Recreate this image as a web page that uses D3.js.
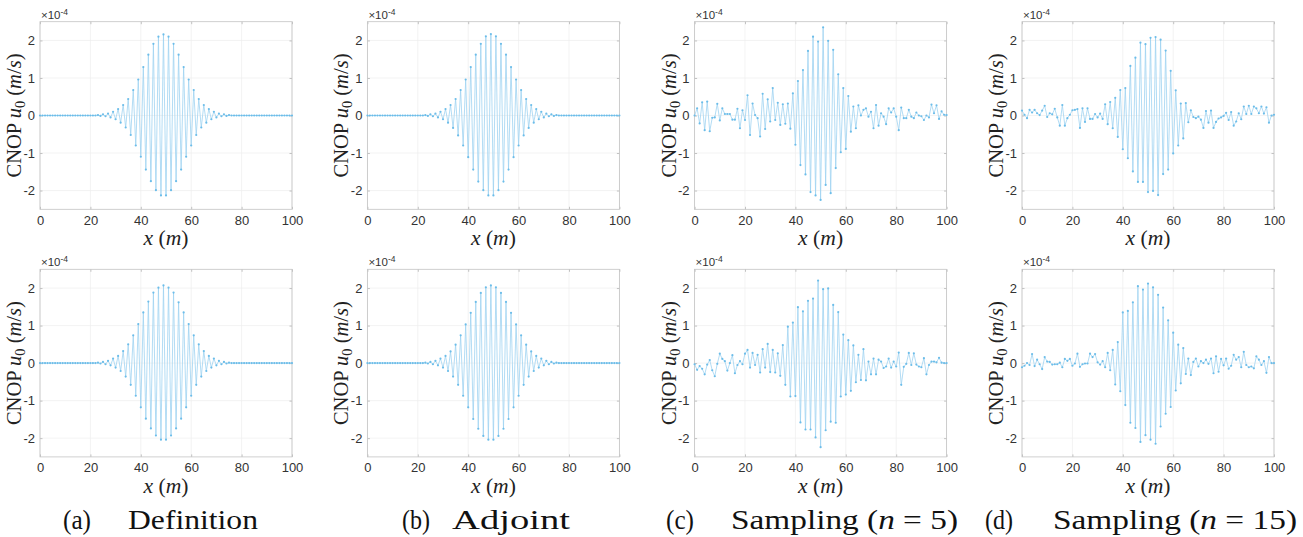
<!DOCTYPE html>
<html>
<head>
<meta charset="utf-8">
<script src="https://cdn.jsdelivr.net/npm/d3@7"></script>
<style>
body{margin:0;background:#fff;}
text{font-family:"Liberation Sans",Arial,sans-serif;}
.serif{font-family:"Liberation Serif","Times New Roman",serif;}
</style>
</head>
<body>
<div id="fig"></div>
<script>
var width = 1303,
height = 537;

// tick labels
var xTicks = [0,20,40,60,80,100];
var yTicks = [-2,-1,0,1,2];
var captionTags = ["(a)","(b)","(c)","(d)"];
var captionNames = ["Definition","Adjoint","Sampling","Sampling"];
var captionN = [null,null,"5","15"];

// CNOP u0 values (x 1e-4 m/s), one per metre, x = 0..100
var defTop = [0,0,0,0,0,0,0,0,0,0, 0,0,0,0,0,0,0,0,0,0,
  0,0,0,0.01,-0.01,0.03,-0.02,0.05,-0.05,0.10,
  -0.10,0.17,-0.19,0.28,-0.32,0.44,-0.52,0.68,-0.80,0.96,
  -1.10,1.29,-1.44,1.62,-1.75,1.91,-1.99,2.10,-2.13,2.16,
  -2.13,2.10,-1.99,1.91,-1.75,1.62,-1.44,1.29,-1.10,0.96,
  -0.80,0.68,-0.52,0.44,-0.32,0.28,-0.19,0.17,-0.10,0.10,
  -0.05,0.05,-0.02,0.03,-0.01,0.01,0,0,0,0,
  0,0,0,0,0,0,0,0,0,0, 0,0,0,0,0,0,0,0,0,0, 0];
var adjTop = [0,0,0,0,0,0,0,0,0,0, 0,0,0,0,0,0,0,0,0,0,
  0,0,0,0.01,-0.01,0.03,-0.02,0.05,-0.05,0.10,
  -0.10,0.17,-0.19,0.28,-0.33,0.44,-0.53,0.68,-0.80,0.96,
  -1.11,1.29,-1.44,1.62,-1.76,1.91,-1.99,2.11,-2.13,2.17,
  -2.13,2.11,-1.99,1.91,-1.76,1.62,-1.44,1.29,-1.11,0.96,
  -0.80,0.68,-0.53,0.44,-0.33,0.28,-0.19,0.17,-0.10,0.10,
  -0.05,0.05,-0.02,0.03,-0.01,0.01,0,0,0,0,
  0,0,0,0,0,0,0,0,0,0, 0,0,0,0,0,0,0,0,0,0, 0];
var samp5Top = [0,0.19,-0.21,0.35,-0.39,0.37,-0.42,-0.06,-0.05,0.31,
  -0.13,0.19,0.04,0.04,0.04,-0.11,-0.11,0.18,-0.34,0.14,
  -0.12,0.54,-0.52,0.32,0.01,-0.07,-0.56,0.58,-0.36,0.43,
  -0.16,0.73,-0.12,0.34,-0.25,0.30,-0.22,0.32,-0.35,0.59,
  -0.78,0.92,-1.32,1.21,-1.57,1.72,-2.04,2.10,-2.13,1.97,
  -2.25,2.35,-1.85,1.99,-2.07,1.75,-1.40,1.10,-0.98,0.73,
  -0.89,0.52,-0.43,0.24,-0.34,0.27,0.00,0.15,0.19,-0.03,
  0.10,-0.34,0.28,-0.27,0.06,-0.03,-0.23,0.19,0.08,0.19,
  -0.03,-0.39,0.21,-0.07,-0.07,0.15,-0.03,-0.07,0.08,0.00,
  -0.02,-0.12,0.00,-0.05,0.29,0.06,0.27,-0.09,0.11,0.02, 0.01];
var samp15Top = [0.13,0.02,-0.07,0.15,0.08,0.15,0.06,0.01,0.13,0.26,
  -0.04,0.06,0.03,0.18,-0.05,-0.27,0.28,-0.27,-0.07,0.02,
  0.14,0.15,0.17,-0.33,0.19,-0.17,0.19,-0.09,-0.09,0.04,
  -0.05,0.05,-0.09,0.30,-0.23,0.36,-0.34,0.47,-0.57,0.68,
  -0.90,0.73,-1.14,1.32,-1.49,1.54,-1.77,1.94,-1.77,1.90,
  -2.04,2.07,-2.01,2.09,-2.12,2.02,-1.56,1.73,-1.44,1.19,
  -1.01,0.67,-0.80,0.32,-0.61,0.33,-0.18,0.14,-0.04,-0.07,
  -0.03,-0.11,-0.33,0.12,-0.19,0.13,-0.33,-0.17,-0.08,-0.05,
  -0.01,0.07,-0.12,0.09,-0.27,-0.16,0.06,-0.10,0.24,0.04,
  0.26,0.04,0.24,0.19,0.06,0.24,0.05,0.22,-0.19,0.00, 0.02];
var defBot = [0,0,0,0,0,0,0,0,0,0, 0,0,0,0,0,0,0,0,0,0,
  0,0,0,0.01,-0.01,0.03,-0.03,0.06,-0.06,0.12,
  -0.12,0.19,-0.21,0.32,-0.36,0.50,-0.58,0.74,-0.87,1.04,
  -1.18,1.35,-1.48,1.64,-1.74,1.88,-1.93,2.01,-2.04,2.07,
  -2.04,2.01,-1.93,1.88,-1.74,1.62,-1.48,1.35,-1.18,1.04,
  -0.87,0.74,-0.58,0.50,-0.36,0.32,-0.21,0.19,-0.12,0.12,
  -0.06,0.06,-0.03,0.03,-0.01,0.01,0,0,0,0,
  0,0,0,0,0,0,0,0,0,0, 0,0,0,0,0,0,0,0,0,0, 0];
var adjBot = [0,0,0,0,0,0,0,0,0,0, 0,0,0,0,0,0,0,0,0,0,
  0,0,0,0.01,-0.01,0.03,-0.03,0.06,-0.06,0.12,
  -0.12,0.19,-0.21,0.31,-0.36,0.49,-0.58,0.74,-0.87,1.03,
  -1.18,1.34,-1.49,1.63,-1.75,1.87,-1.94,2.02,-2.04,2.07,
  -2.04,2.02,-1.94,1.87,-1.75,1.63,-1.49,1.34,-1.18,1.03,
  -0.87,0.74,-0.58,0.49,-0.36,0.31,-0.21,0.19,-0.12,0.12,
  -0.06,0.06,-0.03,0.03,-0.01,0.01,0,0,0,0,
  0,0,0,0,0,0,0,0,0,0, 0,0,0,0,0,0,0,0,0,0, 0];
var samp5Bot = [-0.03,-0.18,-0.08,-0.15,-0.30,-0.04,0.08,-0.19,-0.35,-0.02,
  0.25,0.11,0.05,-0.20,0.00,0.21,-0.27,-0.05,0.05,-0.03,
  0.25,0.35,-0.12,0.27,-0.05,0.22,-0.25,0.37,-0.12,0.51,
  -0.24,0.35,-0.25,0.26,-0.34,0.48,-0.58,0.97,-0.89,1.08,
  -0.88,1.49,-1.58,1.38,-1.77,1.66,-1.77,1.72,-1.98,2.20,
  -2.24,1.97,-1.79,1.99,-1.56,1.55,-1.59,1.36,-0.89,0.76,
  -0.84,0.61,-0.74,0.47,-0.51,0.22,-0.45,0.37,-0.46,0.04,
  -0.30,0.12,-0.30,0.09,0.04,-0.13,-0.09,0.12,-0.12,0.04,
  -0.09,0.28,-0.58,-0.10,-0.02,0.27,-0.05,0.26,-0.04,-0.09,
  -0.11,0.13,-0.30,-0.05,0.04,0.04,0.02,0.14,0.01,0.00, 0.00];
var samp15Bot = [-0.11,-0.07,0.00,-0.05,0.24,-0.08,0.09,-0.03,-0.16,0.16,
  0.04,0.03,-0.04,-0.03,-0.03,0.01,-0.11,0.11,0.06,0.11,
  -0.07,-0.01,0.25,-0.10,-0.03,-0.01,-0.01,0.25,0.16,0.24,
  0.02,-0.04,0.05,-0.11,0.27,-0.19,0.35,-0.57,0.56,-0.75,
  1.35,-1.12,1.39,-1.59,1.62,-1.73,2.05,-2.10,1.96,-1.92,
  2.12,-2.04,2.02,-2.15,1.82,-1.69,1.48,-1.35,1.14,-1.17,
  0.81,-0.73,0.49,-0.54,0.40,-0.29,0.12,-0.32,0.03,0.12,
  -0.09,0.05,0.00,0.09,-0.02,0.12,-0.27,0.18,-0.23,0.11,
  -0.06,0.12,-0.15,-0.07,0.22,0.09,0.16,-0.11,0.30,-0.05,
  -0.11,-0.09,-0.14,0.18,0.09,-0.05,0.05,-0.26,0.16,0.00, 0.00];

var series = [[defTop,adjTop,samp5Top,samp15Top],[defBot,adjBot,samp5Bot,samp15Bot]];

var pw = 252, ph = 187.6,
lefts = [40,367.4,694.6,1022],
tops = [21.7,269.3],
lineColor = "#9fd3f1",
dotColor = "#6cbde9";

var svg = d3.select("#fig").append("svg")
	.attr("width",width)
	.attr("height",height)
	.style("background-color","#fff");

var x = d3.scaleLinear().domain([0,100]).range([0,pw]);
var y = d3.scaleLinear().domain([-2.5,2.5]).range([ph,0]);

for(var r=0;r<2;r++){
	for(var c=0;c<4;c++){
		drawPanel(lefts[c],tops[r],series[r][c]);
	}
}

function drawPanel(left,top,vals){
	var g = svg.append("g").attr("transform","translate("+left+","+top+")");

	// grid
	g.selectAll(".gx").data(xTicks).enter().append("line")
		.attr("x1",function(d){return x(d)}).attr("x2",function(d){return x(d)})
		.attr("y1",0).attr("y2",ph)
		.attr("stroke","#eeeeee").attr("stroke-width",0.7);
	g.selectAll(".gy").data(yTicks).enter().append("line")
		.attr("y1",function(d){return y(d)}).attr("y2",function(d){return y(d)})
		.attr("x1",0).attr("x2",pw)
		.attr("stroke","#eeeeee").attr("stroke-width",0.7);

	// axes (ticks inside, both sides)
	var ax = d3.axisBottom(x).tickValues(xTicks).tickSize(-2.5).tickPadding(6);
	var ay = d3.axisLeft(y).tickValues(yTicks).tickSize(-2.5).tickPadding(5)
		.tickFormat(function(d){return String(d)});
	g.append("g").attr("transform","translate(0,"+ph+")").call(ax);
	g.append("g").call(ay);
	g.append("g").call(d3.axisTop(x).tickValues(xTicks).tickSize(-2.5).tickFormat(""));
	g.append("g").attr("transform","translate("+pw+",0)").call(d3.axisRight(y).tickValues(yTicks).tickSize(-2.5).tickFormat(""));
	g.selectAll(".domain").remove();
	g.selectAll(".tick line").attr("stroke","#aaa").attr("stroke-width",0.7);
	g.selectAll(".tick text").attr("fill","#333").style("font-size","13px")
		.style("font-family","'Liberation Sans',Arial,sans-serif");

	// box
	g.append("rect").attr("width",pw).attr("height",ph)
		.attr("fill","none").attr("stroke","#c4c4c4").attr("stroke-width",0.8);

	// series
	var line = d3.line().x(function(d,i){return x(i)}).y(function(d){return y(d)});
	g.append("path").datum(vals).attr("d",line)
		.attr("fill","none").attr("stroke",lineColor).attr("stroke-width",0.8);
	g.selectAll(".pt").data(vals).enter().append("circle")
		.attr("cx",function(d,i){return x(i)}).attr("cy",function(d){return y(d)})
		.attr("r",1.1).attr("fill",dotColor);

	// exponent
	var ex = g.append("text").attr("x",1).attr("y",-3).attr("fill","#333").style("font-size","11.5px");
	ex.append("tspan").text("\u00d710");
	ex.append("tspan").attr("dy",-4).style("font-size","8.5px").text("-4");

	// y label
	var yl = g.append("text").attr("class","serif")
		.attr("transform","translate(-19,"+(ph/2)+") rotate(-90)")
		.attr("text-anchor","middle").attr("fill","#222").style("font-size","20px")
		.attr("textLength",124).attr("lengthAdjust","spacingAndGlyphs");
	yl.append("tspan").text("CNOP ");
	yl.append("tspan").style("font-style","italic").text("u");
	yl.append("tspan").attr("dy",4).style("font-size","14px").text("0");
	yl.append("tspan").attr("dy",-4).text(" (");
	yl.append("tspan").style("font-style","italic").text("m");
	yl.append("tspan").text("/");
	yl.append("tspan").style("font-style","italic").text("s");
	yl.append("tspan").text(")");

	// x label
	var xl = g.append("text").attr("class","serif")
		.attr("x",pw/2).attr("y",ph+36)
		.attr("text-anchor","middle").attr("fill","#222").style("font-size","20px")
		.attr("textLength",45).attr("lengthAdjust","spacingAndGlyphs");
	xl.append("tspan").style("font-style","italic").text("x");
	xl.append("tspan").text(" (");
	xl.append("tspan").style("font-style","italic").text("m");
	xl.append("tspan").text(")");
}

// captions
var tagX = [63,402,666,985], nameX = [128,452,731,1053], nameW = [130,118,227,244];
for(var k=0;k<4;k++){
	svg.append("text").attr("class","serif").attr("x",tagX[k]).attr("y",529)
		.attr("fill","#111").style("font-size","27px")
		.attr("textLength",28).attr("lengthAdjust","spacingAndGlyphs").text(captionTags[k]);
	var t = svg.append("text").attr("class","serif").attr("x",nameX[k]).attr("y",529)
		.attr("fill","#111").style("font-size","27px")
		.attr("textLength",nameW[k]).attr("lengthAdjust","spacingAndGlyphs");
	t.append("tspan").text(captionNames[k]);
	if(captionN[k]){
		t.append("tspan").text(" (");
		t.append("tspan").style("font-style","italic").text("n");
		t.append("tspan").text(" = "+captionN[k]+")");
	}
}
</script>
</body>
</html>
